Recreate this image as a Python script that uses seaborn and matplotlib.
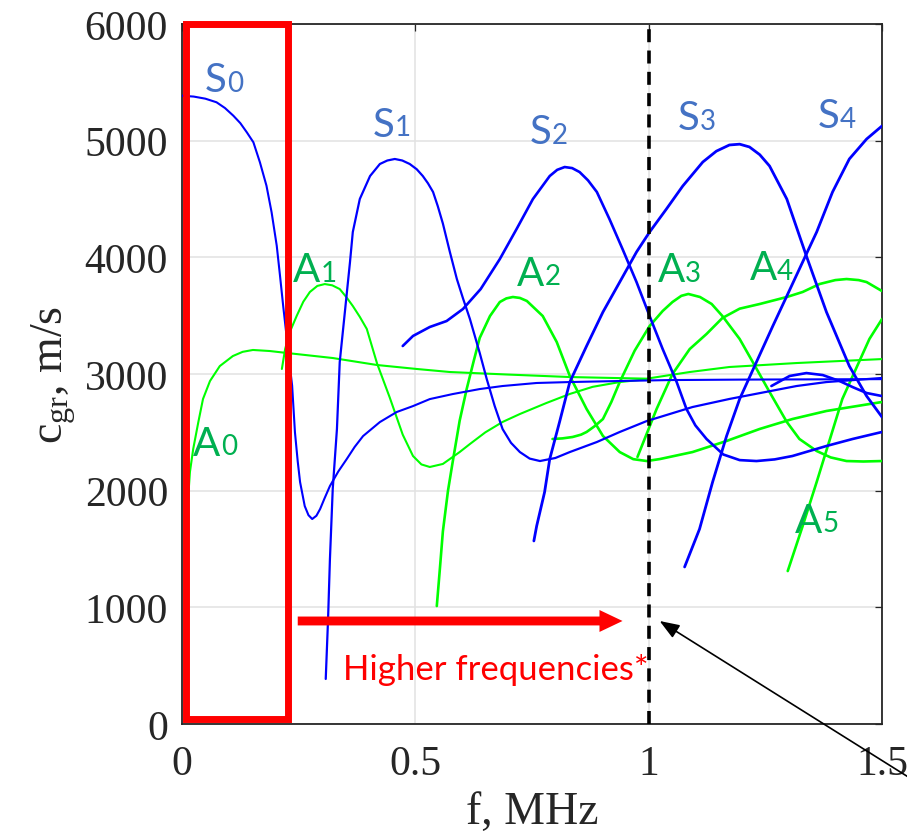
import matplotlib
matplotlib.use('Agg')
import matplotlib.pyplot as plt
import seaborn as sns
from matplotlib.patches import Rectangle

# ---------------- data (frequency in MHz, group velocity in m/s) ----------------
s0_f = [0.0, 0.025, 0.05, 0.074, 0.092, 0.110, 0.125, 0.139, 0.153, 0.167, 0.181, 0.192, 0.203,
        0.210, 0.217, 0.224, 0.231, 0.236, 0.242, 0.248, 0.253, 0.263, 0.271, 0.279, 0.288, 0.296,
        0.305, 0.317, 0.335, 0.353, 0.370, 0.388, 0.424, 0.46, 0.495, 0.531, 0.58, 0.638, 0.687,
        0.76, 0.831, 0.938, 1.045, 1.2, 1.5]
s0_v = [5385, 5378, 5360, 5329, 5280, 5214, 5150, 5071, 4986, 4814, 4614, 4386, 4100,
        3843, 3577, 3328, 3071, 2900, 2502, 2250, 2074, 1868, 1790, 1757, 1785, 1843,
        1930, 2040, 2165, 2271, 2375, 2468, 2588, 2674, 2725, 2785, 2828, 2871, 2897,
        2923, 2931, 2940, 2948, 2952, 2956]

s1_f = [0.308, 0.313, 0.317, 0.323, 0.332, 0.338, 0.349, 0.360, 0.366, 0.381, 0.403, 0.424, 0.440,
        0.456, 0.472, 0.488, 0.503, 0.516, 0.527, 0.538, 0.548, 0.559, 0.574, 0.589, 0.602, 0.617,
        0.638, 0.653, 0.670, 0.687, 0.705, 0.724, 0.745, 0.767, 0.800, 0.831, 0.889, 0.938, 0.996,
        1.024, 1.094, 1.173, 1.317, 1.381, 1.5]
s1_v = [386, 900, 1414, 2014, 2528, 3103, 3531, 3960, 4217, 4500, 4697, 4800, 4830,
        4843, 4830, 4800, 4755, 4697, 4635, 4560, 4440, 4290, 4046, 3814, 3650, 3471,
        3180, 2957, 2726, 2528, 2410, 2331, 2275, 2254, 2280, 2331, 2417, 2503, 2597,
        2631, 2717, 2786, 2897, 2931, 2966]

s2_f = [0.473, 0.495, 0.531, 0.567, 0.602, 0.640, 0.681, 0.717, 0.752, 0.788, 0.804, 0.820, 0.836,
        0.852, 0.870, 0.889, 0.916, 0.944, 0.974, 1.002, 1.030, 1.060, 1.081, 1.100, 1.124, 1.160,
        1.195, 1.231, 1.270, 1.308, 1.381, 1.437, 1.5]
s2_v = [3240, 3326, 3403, 3454, 3557, 3728, 3985, 4243, 4500, 4697, 4750, 4774, 4765,
        4731, 4660, 4560, 4328, 4071, 3788, 3497, 3214, 2931, 2700, 2560, 2443, 2310,
        2262, 2254, 2268, 2297, 2383, 2443, 2503]

s3_f = [0.754, 0.760, 0.777, 0.788, 0.809, 0.831, 0.867, 0.902, 0.938, 0.974, 1.002, 1.038, 1.073,
        1.116, 1.145, 1.173, 1.195, 1.216, 1.238, 1.259, 1.296, 1.338, 1.381, 1.430, 1.467, 1.5]
s3_v = [1569, 1697, 1988, 2271, 2588, 2931, 3240, 3531, 3788, 4046, 4217, 4414, 4611,
        4817, 4910, 4963, 4970, 4946, 4880, 4783, 4500, 4011, 3531, 3068, 2811, 2631]

s4_f = [1.077, 1.109, 1.137, 1.167, 1.195, 1.231, 1.266, 1.296, 1.338, 1.360, 1.394, 1.430, 1.467, 1.5]
s4_v = [1346, 1671, 2074, 2469, 2786, 3103, 3411, 3668, 4029, 4217, 4560, 4843, 5014, 5126]

s5_f = [1.263, 1.302, 1.338, 1.373, 1.409, 1.437, 1.467, 1.5]
s5_v = [2897, 2983, 3008, 2991, 2940, 2888, 2837, 2811]

a0_f = [0.012, 0.013, 0.017, 0.024, 0.035, 0.045, 0.060, 0.081, 0.109, 0.130, 0.152, 0.188, 0.225,
        0.323, 0.418, 0.503, 0.574, 0.700, 0.831, 0.900, 0.996, 1.088, 1.173, 1.317, 1.5]
a0_v = [1800, 1928, 2160, 2357, 2588, 2786, 2940, 3068, 3154, 3190, 3206, 3197, 3180,
        3137, 3077, 3043, 3017, 2995, 2974, 2968, 2960, 3017, 3060, 3094, 3128]

a1_f = [0.214, 0.221, 0.231, 0.246, 0.260, 0.274, 0.290, 0.306, 0.322, 0.338, 0.352, 0.366, 0.381,
        0.396, 0.418, 0.445, 0.473, 0.495, 0.513, 0.531, 0.559, 0.595, 0.617, 0.650, 0.687, 0.724,
        0.780, 0.831, 0.880, 0.938, 1.0]
a1_v = [3043, 3214, 3360, 3500, 3620, 3703, 3755, 3771, 3760, 3728, 3660, 3583, 3490,
        3386, 3090, 2800, 2480, 2297, 2225, 2203, 2229, 2331, 2400, 2500, 2589, 2657,
        2750, 2829, 2890, 2931, 2957]

a2_f = [0.546, 0.553, 0.559, 0.570, 0.580, 0.595, 0.610, 0.625, 0.638, 0.660, 0.681, 0.695, 0.709,
        0.724, 0.739, 0.773, 0.803, 0.831, 0.867, 0.902, 0.938, 0.967, 0.996, 1.024, 1.094, 1.167,
        1.238, 1.308, 1.381, 1.5]
a2_v = [1011, 1350, 1650, 2000, 2245, 2600, 2871, 3110, 3310, 3497, 3617, 3648, 3660,
        3652, 3626, 3497, 3274, 2983, 2700, 2469, 2331, 2270, 2254, 2271, 2331, 2426,
        2529, 2614, 2683, 2760]

a3_f = [0.794, 0.815, 0.837, 0.855, 0.867, 0.885, 0.902, 0.920, 0.938, 0.970, 1.002, 1.030, 1.051,
        1.070, 1.085, 1.110, 1.135, 1.158, 1.195, 1.223, 1.259, 1.296, 1.323, 1.360, 1.390, 1.424,
        1.460, 1.5]
a3_v = [2443, 2448, 2460, 2480, 2503, 2555, 2614, 2760, 2931, 3200, 3411, 3540, 3617,
        3670, 3686, 3660, 3600, 3497, 3300, 3103, 2846, 2589, 2443, 2340, 2285, 2254,
        2250, 2254]

a4_f = [0.976, 0.995, 1.017, 1.051, 1.088, 1.124, 1.158, 1.195, 1.238, 1.296, 1.330, 1.366, 1.400,
        1.424, 1.450, 1.467, 1.5]
a4_v = [2289, 2480, 2700, 3000, 3214, 3343, 3480, 3560, 3600, 3660, 3703, 3771, 3805,
        3814, 3805, 3788, 3711]

a5_f = [1.298, 1.330, 1.360, 1.415, 1.473, 1.5]
a5_v = [1311, 1697, 2074, 2786, 3300, 3471]

label_letters = ['S', 'S', 'S', 'S', 'S', 'A', 'A', 'A', 'A', 'A', 'A']
label_digits = ['0', '1', '2', '3', '4', '0', '1', '2', '3', '4', '5']
label_x = [0.049, 0.409, 0.745, 1.062, 1.362, 0.024, 0.238, 0.717, 1.019, 1.216, 1.313]
label_y = [5425, 5040, 4980, 5100, 5117, 2306, 3797, 3763, 3797, 3814, 1646]

x_ticks = [0, 0.5, 1, 1.5]
x_tick_labels = ['0', '0.5', '1', '1.5']
y_ticks = [0, 1000, 2000, 3000, 4000, 5000, 6000]
y_tick_labels = ['0', '1000', '2000', '3000', '4000', '5000', '6000']

# ---------------- style ----------------
sns.set_style('white')
plt.rcParams['font.family'] = ['Liberation Serif', 'DejaVu Serif']
plt.rcParams['mathtext.fontset'] = 'custom'
plt.rcParams['mathtext.rm'] = 'Liberation Serif'
plt.rcParams['mathtext.it'] = 'Liberation Serif:italic'

BLUE = '#0000ff'
GREEN = '#00ff00'
S_LABEL = '#4472c4'
A_LABEL = '#00b050'
DARK = '#262626'

fig = plt.figure(figsize=(9.07, 8.37), dpi=100)
ax = fig.add_axes([182 / 907, 1 - 725 / 837, 700 / 907, 700 / 837])

curves = [
    (a0_f, a0_v, GREEN, 1.5), (a1_f, a1_v, GREEN, 1.5), (a2_f, a2_v, GREEN, 1.9),
    (a3_f, a3_v, GREEN, 1.9), (a4_f, a4_v, GREEN, 1.9), (a5_f, a5_v, GREEN, 1.9),
    (s0_f, s0_v, BLUE, 1.5), (s1_f, s1_v, BLUE, 1.6), (s2_f, s2_v, BLUE, 1.9),
    (s3_f, s3_v, BLUE, 2.0), (s4_f, s4_v, BLUE, 2.0), (s5_f, s5_v, BLUE, 1.9),
]
for f, v, c, lw in curves:
    sns.lineplot(x=f, y=v, color=c, lw=lw, sort=False, estimator=None, ax=ax, zorder=3)

ax.set_xlim(0, 1.5)
ax.set_ylim(0, 6000)
ax.set_xticks(x_ticks)
ax.set_xticklabels(x_tick_labels)
ax.set_yticks(y_ticks)
ax.set_yticklabels(y_tick_labels)
ax.tick_params(direction='in', length=5, width=0.9, top=True, right=True,
               labelsize=30, colors=DARK)
ax.tick_params(axis='x', pad=15)
ax.tick_params(axis='y', pad=10)
ax.grid(True, color='#e2e2e2', lw=1.1)
ax.set_axisbelow(True)
for s in ax.spines.values():
    s.set_color(DARK)
    s.set_linewidth(1.3)

ax.set_xlabel('f, MHz', fontsize=33, color=DARK, labelpad=5)
ax.set_ylabel(r'c$_{\mathrm{gr}}$, m/s', fontsize=33, color=DARK, labelpad=5)

# dashed marker at 1 MHz
ax.axvline(1.0, color='black', lw=2.6, ls=(0, (3.6, 2.3)), zorder=4)

# red box around low-frequency region
ax.add_patch(Rectangle((0.0075, 38.6), 0.228 - 0.0075, 6004 - 38.6, fill=False,
                       ec='#ff0000', lw=5.0, clip_on=False, zorder=6, joinstyle='miter'))

# red arrow + text
ax.annotate('', xy=(0.944, 883), xytext=(0.248, 883),
            arrowprops=dict(arrowstyle='simple,head_length=0.83,head_width=0.79,tail_width=0.32',
                            mutation_scale=20, fc='#ff0000', ec='none', lw=0,
                            shrinkA=0, shrinkB=0), zorder=6)
ax.text(0.345, 386, 'Higher frequencies*', color='#ff0000', fontsize=25, family='Lato',
        ha='left', va='baseline', zorder=6)

# black arrow pointing at the dashed line
ax.annotate('', xy=(1.0235, 883), xytext=(1.645, -677),
            arrowprops=dict(arrowstyle='-|>,head_length=0.8,head_width=0.3', mutation_scale=15,
                            color='black', lw=1.2, shrinkA=0, shrinkB=0),
            annotation_clip=False, zorder=7)

# mode labels
for L, d, x, y in zip(label_letters, label_digits, label_x, label_y):
    col = S_LABEL if L == 'S' else A_LABEL
    t = ax.text(x, y, L, color=col, fontsize=29, family='Lato', ha='left', va='baseline', zorder=6)
    ax.annotate(d, xy=(1, 0), xycoords=t, xytext=(0.3, 1.8), textcoords='offset points',
                fontsize=20, family='Lato', color=col, ha='left', va='bottom', zorder=6)

fig.savefig('out.png', dpi=100)
